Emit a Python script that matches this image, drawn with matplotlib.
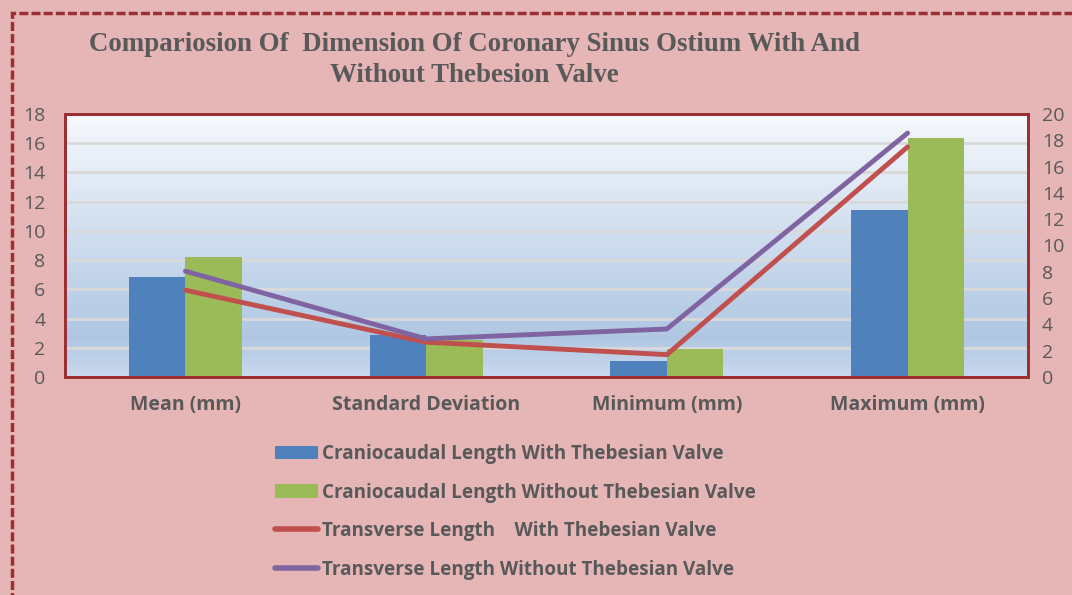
import numpy as np
import matplotlib
matplotlib.use("Agg")
import matplotlib.pyplot as plt
from matplotlib.patches import Rectangle, Patch
from matplotlib.lines import Line2D

categories = ["Mean (mm)", "Standard Deviation", "Minimum (mm)", "Maximum (mm)"]
cc_with = [6.85, 2.85, 1.1, 11.45]
cc_without = [8.2, 2.5, 1.95, 16.35]
tr_with = [6.6, 2.65, 1.7, 17.5]
tr_without = [8.05, 2.9, 3.65, 18.55]
left_ticks = list(range(0, 19, 2))
right_ticks = list(range(0, 21, 2))
labels = ["Craniocaudal Length With Thebesian Valve",
          "Craniocaudal Length Without Thebesian Valve",
          "Transverse Length    With Thebesian Valve",
          "Transverse Length Without Thebesian Valve"]
title = "Compariosion Of  Dimension Of Coronary Sinus Ostium With And\nWithout Thebesion Valve"

BG = "#E6B5B5"
TXT = "#595959"
BORDER = "#9B2F33"
C_BLUE = "#4F81BD"
C_GREEN = "#9BBB59"
C_RED = "#C0504D"
C_PURPLE = "#8064A2"

fig = plt.figure(figsize=(10.72, 5.95), dpi=100, facecolor=BG)
ax = fig.add_axes([65/1072, 1-377/595, (1028-65)/1072, (377-114)/595])
ax.set_facecolor("none")

x = np.arange(len(categories))
w = 0.235
ax.set_xlim(-0.5, len(categories) - 0.5)

# gradient background (row 0 = top)
n = 256
top = np.array([0.965, 0.975, 0.99])
mid = np.array([0.69, 0.78, 0.89])
bot = np.array([0.79, 0.85, 0.93])
img = np.zeros((n, 1, 3))
for i in range(n):
    t = i / (n - 1)
    if t < 0.85:
        c = top + (mid - top) * (t / 0.85)
    else:
        c = mid + (bot - mid) * ((t - 0.85) / 0.15)
    img[i, 0] = c
ax.imshow(img, extent=[-0.5, len(categories) - 0.5, 0, 18], origin="upper",
          aspect="auto", zorder=0)
ax.set_ylim(0, 18)

for t in left_ticks[1:]:
    ax.axhline(t, color="#D9D9D9", lw=2, zorder=1)

ax.bar(x - w/2, cc_with, w, color=C_BLUE, zorder=2)
ax.bar(x + w/2, cc_without, w, color=C_GREEN, zorder=2)

ax.set_yticks(left_ticks)
ax.set_xticks(x)
ax.set_xticklabels(categories, fontsize=14, fontweight="bold", color=TXT, family="Open Sans")
ax.tick_params(axis="x", length=0, pad=13)
ax.tick_params(axis="y", length=0, pad=14, labelsize=14, labelcolor=TXT)
for lab in ax.get_yticklabels():
    lab.set_family("Open Sans")
for s in ax.spines.values():
    s.set_color(BORDER)
    s.set_linewidth(2)

ax2 = ax.twinx()
ax2.set_ylim(0, 20)
ax2.plot(x, tr_with, color=C_RED, lw=3.5, zorder=3, solid_capstyle="round")
ax2.plot(x, tr_without, color=C_PURPLE, lw=3.5, zorder=3, solid_capstyle="round")
ax2.set_yticks(right_ticks)
ax2.tick_params(axis="y", length=0, pad=10, labelsize=14, labelcolor=TXT)
for lab in ax2.get_yticklabels():
    lab.set_family("Open Sans")
for s in ax2.spines.values():
    s.set_color(BORDER)
    s.set_linewidth(2)

fig.text(474/1072, 1-60/595, title, ha="center", va="center", fontsize=19.4,
         fontweight="bold", family="Liberation Serif", color=TXT, linespacing=1.27)

handles = [Patch(facecolor=C_BLUE), Patch(facecolor=C_GREEN),
           Line2D([], [], color=C_RED, lw=4, solid_capstyle="round"),
           Line2D([], [], color=C_PURPLE, lw=4, solid_capstyle="round")]
leg = fig.legend(handles, labels, loc="upper left", bbox_to_anchor=(258/1072, 1-427/595),
                 frameon=False, prop={"family": "Open Sans", "weight": "bold", "size": 13.6},
                 labelspacing=0.98, handlelength=2.3, handletextpad=0.2, handleheight=0.7)
for t in leg.get_texts():
    t.set_color(TXT)

# dashed border
border = Rectangle((12/1072, -0.05), 1.2, 1.05 - 13/595, transform=fig.transFigure,
                   fill=False, edgecolor=BORDER, lw=2.5, linestyle=(0, (2.6, 0.9)))
fig.patches.append(border)

fig.savefig("out.png", dpi=100, facecolor=BG)
